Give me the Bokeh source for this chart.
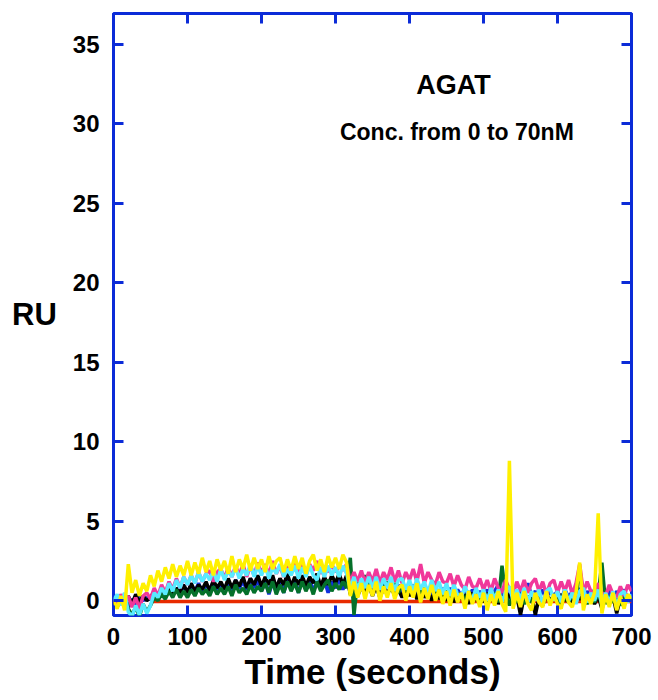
from bokeh.plotting import figure
from bokeh.models import Range1d, LinearAxis, FixedTicker, Label
from bokeh.embed import file_html
from bokeh.resources import INLINE

# ---- data (RU vs time in seconds) ----
x_ticks = [0, 100, 200, 300, 400, 500, 600, 700]
y_ticks = [0, 5, 10, 15, 20, 25, 30, 35]

t5 = list(range(0, 701, 5))

yellow_ru = [
    0.0, -0.5, 0.3, -0.6, 2.3, 0.5, 1.3, 0.3, 1.1, 0.6,
    1.6, 0.9, 1.9, 1.2, 2.1, 1.4, 2.3, 1.5, 2.2, 1.6,
    2.5, 1.6, 2.4, 1.7, 2.7, 1.8, 2.5, 1.6, 2.6, 1.9,
    2.5, 1.7, 2.8, 1.8, 2.6, 2.0, 2.9, 1.9, 2.7, 2.0,
    2.6, 1.8, 2.8, 2.0, 2.5, 2.7, 1.8, 2.6, 1.9, 2.8,
    2.0, 2.7, 1.7, 2.5, 2.9, 1.9, 2.6, 1.8, 2.8, 2.1,
    2.7, 2.0, 2.9, 2.4, 0.3, 1.2, 0.2, 1.1, 0.1, 1.0,
    0.3, 1.2, 0.0, 0.9, 0.2, 1.1, 0.1, 0.8, 1.0, 0.0,
    0.9, 0.2, 1.1, -0.1, 0.8, 0.1, 1.0, 0.0, 0.7, -0.2,
    0.6, -0.3, 0.7, -0.1, 0.5, -0.5, 0.6, -0.2, 0.4, -0.4,
    0.5, -0.6, 0.4, -0.3, 0.6, -0.2, -0.7, 8.8, -0.5, 0.5,
    -0.4, 0.6, -0.2, -0.6, 0.5, -0.1, -0.4, 0.6, -0.3, 0.4,
    -0.2, -0.5, 0.6, -0.1, -0.4, 0.5, 2.4, -0.6, 0.4, -0.2,
    0.5, 5.5, -0.8, 0.4, -0.4, 0.5, -0.6, 0.3, -0.5, 0.4,
    0.1,
]

cyan_ru = [
    0.0, 0.4, -0.3, 0.5, -0.7, -1.0, -0.3, -0.9, -0.2, -0.8,
    -0.3, 0.5, 0.2, 0.8, 0.4, 1.1, 0.6, 1.3, 0.8, 1.5,
    1.0, 1.6, 1.1, 1.8, 1.2, 1.7, 1.3, 1.9, 1.2, 2.0,
    1.3, 1.9, 1.5, 2.1, 1.4, 2.0, 1.6, 2.3, 1.5, 2.2,
    1.6, 2.2, 1.4, 2.1, 1.7, 2.3, 1.5, 2.0, 1.6, 2.2,
    1.4, 2.1, 1.5, 2.2, 1.6, 1.3, 2.1, 1.5, 2.2, 1.6,
    2.1, 1.5, 2.2, 1.7, 0.8, 1.5, 0.7, 1.4, 0.8, 1.5,
    0.8, 1.5, 0.7, 1.4, 0.8, 1.5, 0.6, 1.3, 1.4, 0.7,
    1.3, 0.6, 1.4, 0.7, 1.2, 0.5, 1.3, 0.6, 1.2, 0.4,
    1.1, 0.3, 1.0, 0.4, 0.2, 0.9, 0.3, 0.1, 0.8, 0.2,
    0.7, 0.0, 0.8, 0.1, 0.7, -0.1, 0.6, 0.9, 0.0, 0.7,
    0.1, 0.8, -0.1, 0.6, 0.0, 0.7, -0.2, 0.6, 0.8, 0.0,
    0.6, -0.1, 0.7, 0.0, 0.5, -0.2, 0.6, 0.8, -0.1, 0.5,
    0.0, 0.7, -0.3, 0.5, -0.1, 0.6, -0.4, 0.4, 0.6, -0.1,
    0.4,
]

pink_ru = [
    0.1, -0.3, 0.4, -0.1, 0.3, -0.4, 0.2, -0.5, 0.3, 0.5,
    0.1, 0.8, 0.3, 1.0, 0.5, 1.2, 0.7, 1.4, 0.8, 1.5,
    1.0, 1.6, 1.1, 1.8, 1.2, 1.7, 1.9, 1.2, 1.8, 2.0,
    1.4, 2.1, 1.5, 2.2, 1.6, 2.3, 1.5, 2.2, 1.6, 2.4,
    1.7, 2.3, 1.6, 2.5, 1.7, 2.2, 1.5, 2.3, 1.7, 2.4,
    1.8, 2.4, 1.6, 2.3, 1.9, 2.5, 1.7, 2.2, 1.8, 2.3,
    1.8, 2.2, 1.9, 2.3, 1.1, 1.8, 1.2, 1.9, 1.1, 1.8,
    1.2, 2.0, 1.1, 1.8, 1.3, 2.1, 1.2, 1.9, 1.1, 1.8,
    1.3, 2.0, 1.2, 2.3, 1.1, 1.8, 1.3, 1.0, 1.8, 1.2,
    1.1, 1.7, 0.9, 1.6, 1.0, 0.7, 1.5, 0.9, 0.8, 1.4,
    0.7, 1.3, 0.6, 1.4, 0.8, 0.5, 1.3, 0.7, 0.4, 1.2,
    0.6, 1.3, 0.5, 1.1, 1.4, 0.6, 1.2, 0.4, 1.1, 1.3,
    0.5, 1.2, 0.6, 1.3, 0.4, 1.1, 2.3, 0.5, 1.2, 0.6,
    0.4, 1.1, 0.5, 0.3, 1.0, 0.4, 0.2, 0.9, 0.3, 1.0,
    0.6,
]

green_ru = [
    0.0, 0.3, -0.2, 0.4, -0.5, -0.9, -0.4, -1.0, -0.2, -0.7,
    -0.3, 0.2, 0.0, 0.4, 0.1, 0.6, 0.2, 0.7, 0.2, 0.6,
    0.2, 0.7, 0.3, 0.8, 0.4, 0.7, 0.3, 0.9, 0.4, 0.8,
    0.4, 0.9, 0.3, 1.0, 0.5, 0.8, 0.4, 1.0, 0.5, 0.9,
    0.6, 1.1, 0.5, 1.2, 0.4, 1.0, 0.5, 1.2, 0.6, 1.1,
    0.5, 1.2, 0.6, 1.1, 0.4, 1.2, 0.6, 1.0, 1.3, 0.6,
    1.1, 0.7, 1.2, 0.8, 2.7, -0.9, 1.4, 0.9, 1.6, 1.0,
    1.3, 0.8, 1.4, 0.7, 1.2, 0.6, 1.1, 0.5, 1.0, 0.6,
    0.9, 0.5, 1.0, 0.4, 0.8, 0.3, 0.9, 0.2, 0.7, 0.3,
    0.6, 0.2, 0.7, 0.1, 0.5, 0.0, 0.6, -0.1, 0.5, 0.0,
    0.4, -0.2, 0.3, 0.5, -0.1, 2.2, 0.4, -0.3, 0.3, -0.1,
    0.4, -0.2, 0.3, -0.1, 0.4, 0.0, -0.3, 0.3, -0.1, 0.4,
    0.0, -0.3, 0.3, -0.1, 0.4, 0.0, 2.0, 0.3, -0.2, 0.3,
    -0.1, 0.4, 2.4, -0.2, 0.3, -0.1, 0.4, -0.3, 0.2, 0.3,
    0.0,
]

black_ru = [
    0.0, -0.4, 0.2, -0.3, 0.3, -0.2, 0.4, -0.1, 0.3, 0.0,
    0.2, 0.6, 0.1, 0.7, 0.3, 0.9, 0.4, 0.8, 0.5, 1.0,
    0.5, 1.1, 0.6, 1.0, 0.7, 1.2, 0.6, 1.3, 0.8, 1.2,
    0.7, 1.4, 0.8, 1.3, 0.9, 1.5, 0.8, 1.4, 1.0, 1.6,
    0.9, 1.5, 1.0, 1.6, 0.8, 1.4, 1.0, 1.7, 0.9, 1.5,
    1.0, 1.6, 0.9, 1.5, 1.1, 1.7, 0.9, 1.5, 1.0, 1.6,
    1.1, 1.7, 1.0, 1.6, 0.4, 1.0, 0.3, 0.9, 0.4, 1.0,
    0.3, 0.9, 0.2, 0.8, 0.4, 0.9, 0.3, 0.7, 0.2, 0.8,
    0.3, 0.8, 0.1, 0.7, 0.2, 0.6, 0.0, 0.7, 0.1, 0.5,
    0.0, 0.6, -0.1, 0.5, 0.1, 0.4, -0.2, 0.5, 0.0, 0.4,
    -0.1, 0.5, 0.0, 0.4, -0.2, 0.3, 0.1, 0.4, -0.1, 0.3,
    -0.9, 0.3, 0.0, 0.4, -0.9, 0.2, -0.1, 0.4, 0.0, 0.3,
    -0.1, 0.4, 0.0, 0.3, -0.2, 0.4, 0.1, 0.3, -0.1, 0.2,
    -0.2, 0.3, -0.5, 0.2, 0.0, 0.3, -0.8, 0.2, -0.1, 0.3,
    0.1,
]

blue_ru = [
    0.0, 0.3, -0.2, 0.2, -0.4, 0.1, -0.2, 0.3, 0.0, 0.2,
    0.1, 0.5, 0.2, 0.6, 0.3, 0.7, 0.4, 0.8, 0.5, 0.9,
    0.5, 1.0, 0.6, 1.1, 0.5, 1.0, 0.7, 1.2, 0.6, 1.1,
    0.7, 1.2, 0.6, 1.3, 0.8, 1.2, 0.7, 1.4, 0.8, 1.3,
    0.6, 1.3, 0.4, 1.2, 0.7, 1.4, 0.5, 1.3, 0.8, 1.2,
    0.5, 1.3, 0.7, 1.4, 0.6, 1.2, 0.8, 1.3, 0.5, 1.2,
    0.8, 1.4, 0.7, 1.3, 0.6, 1.1, 0.5, 1.0, 0.6, 1.1,
    0.5, 1.0, 0.6, 1.1, 0.4, 0.9, 0.5, 1.0, 0.4, 0.9,
    0.5, 1.0, 0.3, 0.9, 0.4, 0.8, 0.3, 0.9, 0.2, 0.8,
    0.3, 0.8, 0.2, 0.7, 0.3, 0.8, 0.1, 0.7, 0.2, 0.6,
    0.2, 0.7, 0.1, 0.6, 1.0, 0.2, 0.7, 0.1, 0.6, 0.3,
    0.7, 0.2, 1.1, 0.3, 0.6, 0.1, 0.7, 0.2, 0.6, 0.3,
    0.6, 0.1, 0.7, 0.2, 0.6, 0.0, 0.8, 0.1, 0.6, 0.2,
    0.7, 0.1, 0.6, 0.2, 0.7, 0.0, 0.6, 0.2, 0.7, 0.1,
    0.3,
]

red_t = [50, 700]
red_ru = [-0.05, -0.05]

# ---- styling ----
FRAME = "#0b2bd8"
FONT = "Liberation Sans"

p = figure(width=658, height=700, output_backend="svg", toolbar_location=None,
           x_range=Range1d(0, 700), y_range=Range1d(-0.93, 36.95),
           min_border_left=113, min_border_right=27,
           min_border_top=13, min_border_bottom=85,
           x_axis_location=None, y_axis_location=None)
p.grid.visible = False
p.background_fill_color = "white"
p.border_fill_color = "white"
p.outline_line_color = FRAME
p.outline_line_width = 3
p.outline_line_alpha = 1.0


def style_axis(ax, labels=True, standoff=10):
    ax.axis_line_color = None
    ax.major_tick_line_color = FRAME
    ax.major_tick_line_width = 3
    ax.major_tick_in = 10
    ax.major_tick_out = 0
    ax.minor_tick_line_color = None
    if labels:
        ax.major_label_text_font = FONT
        ax.major_label_text_font_style = "bold"
        ax.major_label_text_font_size = "24px"
        ax.major_label_text_color = "black"
        ax.major_label_standoff = standoff
    else:
        ax.major_label_text_font_size = "0px"
        ax.major_label_standoff = 0
        ax.major_label_overrides = {t: "" for t in ax.ticker.ticks}


xb = LinearAxis(ticker=FixedTicker(ticks=x_ticks))
style_axis(xb, True, 12)
xb.axis_label = "Time (seconds)"
xb.axis_label_text_font = FONT
xb.axis_label_text_font_style = "bold"
xb.axis_label_text_font_size = "35px"
xb.axis_label_text_color = "black"
xb.axis_label_standoff = 4
p.add_layout(xb, "below")

xt = LinearAxis(ticker=FixedTicker(ticks=x_ticks))
style_axis(xt, False)
p.add_layout(xt, "above")

yl = LinearAxis(ticker=FixedTicker(ticks=y_ticks))
style_axis(yl, True, 14)
yl.axis_label = "RU"
yl.axis_label_orientation = "horizontal"
yl.axis_label_text_font = FONT
yl.axis_label_text_font_style = "bold"
yl.axis_label_text_font_size = "31px"
yl.axis_label_text_color = "black"
yl.axis_label_standoff = 13
p.add_layout(yl, "left")

yr = LinearAxis(ticker=FixedTicker(ticks=y_ticks))
style_axis(yr, False)
p.add_layout(yr, "right")

# ---- series ----
LW = 3.5
p.line(red_t, red_ru, line_color="#e82a00", line_width=LW)
p.line(t5, blue_ru, line_color="#1030e0", line_width=LW)
p.line(t5, black_ru, line_color="black", line_width=LW)
p.line(t5, green_ru, line_color="#05702a", line_width=LW)
p.line(t5, pink_ru, line_color="#f0389a", line_width=LW)
p.line(t5, cyan_ru, line_color="#58eaff", line_width=LW)
p.line(t5, yellow_ru, line_color="#fff000", line_width=LW)

# ---- texts inside the frame ----
p.add_layout(Label(x=459.5, y=32.45, text="AGAT", text_align="center",
                   text_baseline="alphabetic", text_font=FONT,
                   text_font_style="bold", text_font_size="27px",
                   text_color="black"))
p.add_layout(Label(x=464, y=29.5, text="Conc. from 0 to 70nM", text_align="center",
                   text_baseline="alphabetic", text_font=FONT,
                   text_font_style="bold", text_font_size="23px",
                   text_color="black"))

open("out.html", "w").write(file_html(p, INLINE))
